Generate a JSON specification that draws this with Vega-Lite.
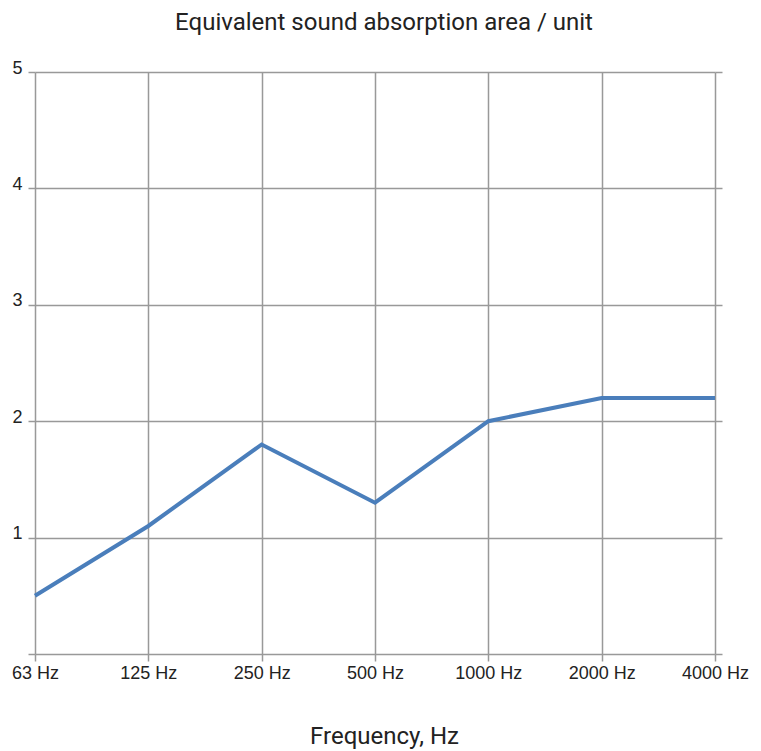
{
  "$schema": "https://vega.github.io/schema/vega-lite/v6.json",
  "width": 680,
  "height": 582,
  "autosize": {"type": "none"},
  "padding": {"left": 35, "top": 72, "right": 46, "bottom": 97},
  "background": "white",
  "title": {
    "text": "Equivalent sound absorption area / unit",
    "font": "Roboto",
    "fontSize": 24,
    "fontWeight": "normal",
    "color": "#222222",
    "anchor": "middle",
    "dx": 9,
    "offset": 24
  },
  "config": {"view": {"stroke": null}},
  "data": {
    "values": [
      {"freq": "63 Hz", "value": 0.5},
      {"freq": "125 Hz", "value": 1.1},
      {"freq": "250 Hz", "value": 1.8},
      {"freq": "500 Hz", "value": 1.3},
      {"freq": "1000 Hz", "value": 2.0},
      {"freq": "2000 Hz", "value": 2.2},
      {"freq": "4000 Hz", "value": 2.2}
    ]
  },
  "layer": [
    {
      "mark": {"type": "line", "color": "#4a7ebb", "strokeWidth": 4},
      "encoding": {
        "x": {
          "field": "freq",
          "type": "ordinal",
          "sort": null,
          "scale": {"type": "point", "padding": 0},
          "axis": {
            "title": "Frequency, Hz",
            "titleFont": "Roboto",
            "titleFontSize": 24,
            "titleFontWeight": "normal",
            "titleColor": "#222222",
            "titlePadding": 42,
            "titleX": 349,
            "labelAngle": 0,
            "labelFont": "Liberation Sans",
            "labelFontSize": 18,
            "labelColor": "#222222",
            "labelPadding": 3,
            "tickSize": 7,
            "tickColor": "#999999",
            "tickWidth": 1.5,
            "domain": false,
            "grid": true,
            "gridColor": "#999999",
            "gridWidth": 1.5
          }
        },
        "y": {
          "field": "value",
          "type": "quantitative",
          "scale": {"domain": [0, 5], "nice": false},
          "axis": {
            "title": null,
            "values": [0, 1, 2, 3, 4, 5],
            "labelExpr": "datum.value == 0 ? '' : datum.label",
            "labelFont": "Liberation Sans",
            "labelFontSize": 18,
            "labelColor": "#222222",
            "labelAlign": "left",
            "labelPadding": 16,
            "labelOffset": -4,
            "tickSize": 7,
            "tickColor": "#999999",
            "tickWidth": 1.5,
            "domain": false,
            "grid": true,
            "gridColor": "#999999",
            "gridWidth": 1.5
          }
        }
      }
    },
    {
      "mark": {"type": "line", "opacity": 0},
      "encoding": {
        "y": {
          "field": "value",
          "type": "quantitative",
          "scale": {"domain": [0, 5], "nice": false},
          "axis": {
            "orient": "right",
            "title": null,
            "values": [0, 1, 2, 3, 4, 5],
            "labels": false,
            "tickSize": 7,
            "tickColor": "#999999",
            "tickWidth": 1.5,
            "domain": false,
            "grid": false
          }
        }
      }
    }
  ],
  "resolve": {"axis": {"y": "independent"}}
}
